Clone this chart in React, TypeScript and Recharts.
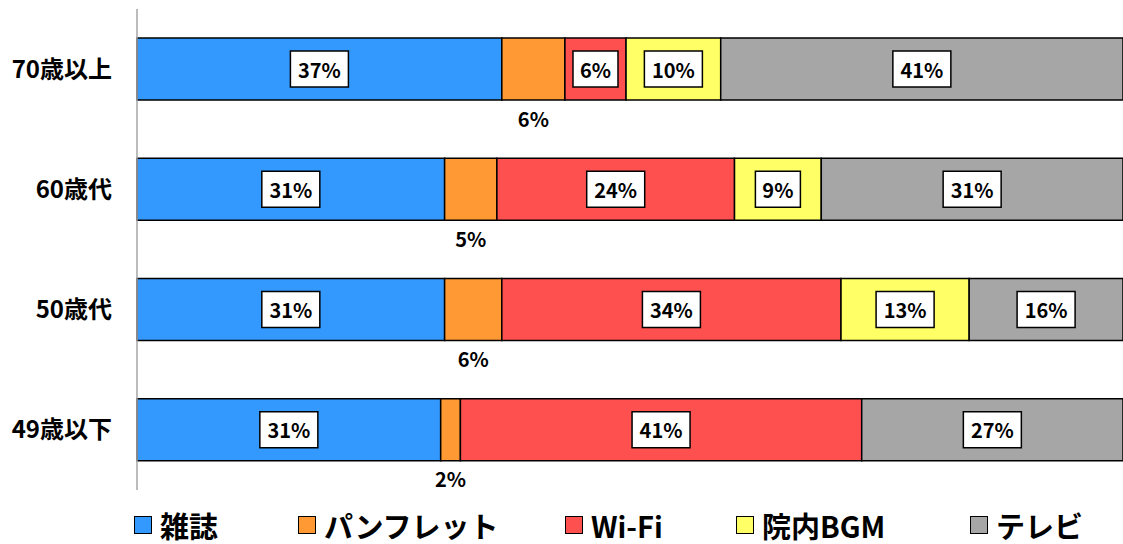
import React from 'react';
import { BarChart, Bar, XAxis, YAxis, Legend, LabelList } from 'recharts';

const categories = ['70歳以上', '60歳代', '50歳代', '49歳以下'];
const seriesNames = ['雑誌', 'パンフレット', 'Wi-Fi', '院内BGM', 'テレビ'];
const seriesKeys = ['magazine', 'pamphlet', 'wifi', 'bgm', 'tv'];
const seriesColors = ['#3399FF', '#FF9933', '#FF5050', '#FFFF66', '#A6A6A6'];

const magazine = [37.0, 31.2, 31.2, 30.8];
const pamphlet = [6.4, 5.3, 5.8, 2.0];
const wifi = [6.2, 24.1, 34.4, 40.7];
const bgm = [9.6, 8.8, 13.0, 0];
const tv = [40.8, 30.6, 15.6, 26.5];

const seriesValues = [magazine, pamphlet, wifi, bgm, tv];

const data = categories.map((name, i) => {
  const row: Record<string, any> = { name };
  seriesKeys.forEach((k, j) => {
    row[k] = seriesValues[j][i];
  });
  return row;
});

const FONT = '"Noto Sans CJK JP", "Noto Sans", sans-serif';
const legendLeft = [134, 298, 565, 736, 970];

const renderBoxLabel = (props: any) => {
  const { x, y, width, height, value } = props;
  if (!value) return null;
  const text = `${Math.round(Number(value))}%`;
  const bw = 13 * text.length + 19;
  const bh = 36;
  const cx = Number(x) + Number(width) / 2;
  const cy = Number(y) + Number(height) / 2;
  return (
    <g>
      <rect x={cx - bw / 2} y={cy - bh / 2} width={bw} height={bh} fill="#FFFFFF" stroke="#000000" strokeWidth={1.5} />
      <text x={cx} y={cy} textAnchor="middle" dominantBaseline="central" fontFamily={FONT} fontWeight="bold" fontSize={20} fill="#000">
        {text}
      </text>
    </g>
  );
};

const renderBelowLabel = (props: any) => {
  const { x, y, width, height, value } = props;
  if (!value) return null;
  const text = `${Math.round(Number(value))}%`;
  const cx = Number(x) + Number(width) / 2;
  const cy = Number(y) + Number(height) + 18;
  return (
    <text x={cx} y={cy} textAnchor="middle" dominantBaseline="central" fontFamily={FONT} fontWeight="bold" fontSize={20} fill="#000">
      {text}
    </text>
  );
};

const renderLegend = () => (
  <div style={{ position: 'relative', height: 54, width: 1123 }}>
    {seriesNames.map((n, i) => (
      <div
        key={n}
        style={{ position: 'absolute', left: legendLeft[i], top: 15, display: 'flex', alignItems: 'center', height: 40, whiteSpace: 'nowrap' }}
      >
        <div style={{ width: 16, height: 16, background: seriesColors[i], border: '1.5px solid #000', marginRight: 8, flex: 'none' }} />
        <span style={{ fontFamily: FONT, fontWeight: 'bold', fontSize: 29, color: '#000', lineHeight: '40px' }}>{n}</span>
      </div>
    ))}
  </div>
);

export default function App() {
  return (
    <div style={{ position: 'absolute', left: 0, top: 0, width: 1123, height: 544, background: '#fff' }}>
      <BarChart
        width={1123}
        height={544}
        data={data}
        layout="vertical"
        margin={{ top: 9, right: 0, left: 0, bottom: 0 }}
        barSize={62}
      >
        <XAxis type="number" domain={[0, 100]} hide />
        <YAxis
          type="category"
          dataKey="name"
          width={137}
          axisLine={{ stroke: '#A6A6A6', strokeWidth: 1.5 }}
          tickLine={false}
          tickSize={0}
          tickMargin={25}
          tick={{ fontFamily: FONT, fontWeight: 'bold', fontSize: 24, fill: '#000' }}
        />
        <Legend verticalAlign="bottom" align="left" content={renderLegend} wrapperStyle={{ left: 0, width: 1123, height: 54 }} />
        {seriesKeys.map((k, j) => (
          <Bar key={k} dataKey={k} name={seriesNames[j]} stackId="a" fill={seriesColors[j]} stroke="#000" strokeWidth={1.5} isAnimationActive={false}>
            <LabelList dataKey={k} content={j === 1 ? renderBelowLabel : renderBoxLabel} />
          </Bar>
        ))}
      </BarChart>
    </div>
  );
}
